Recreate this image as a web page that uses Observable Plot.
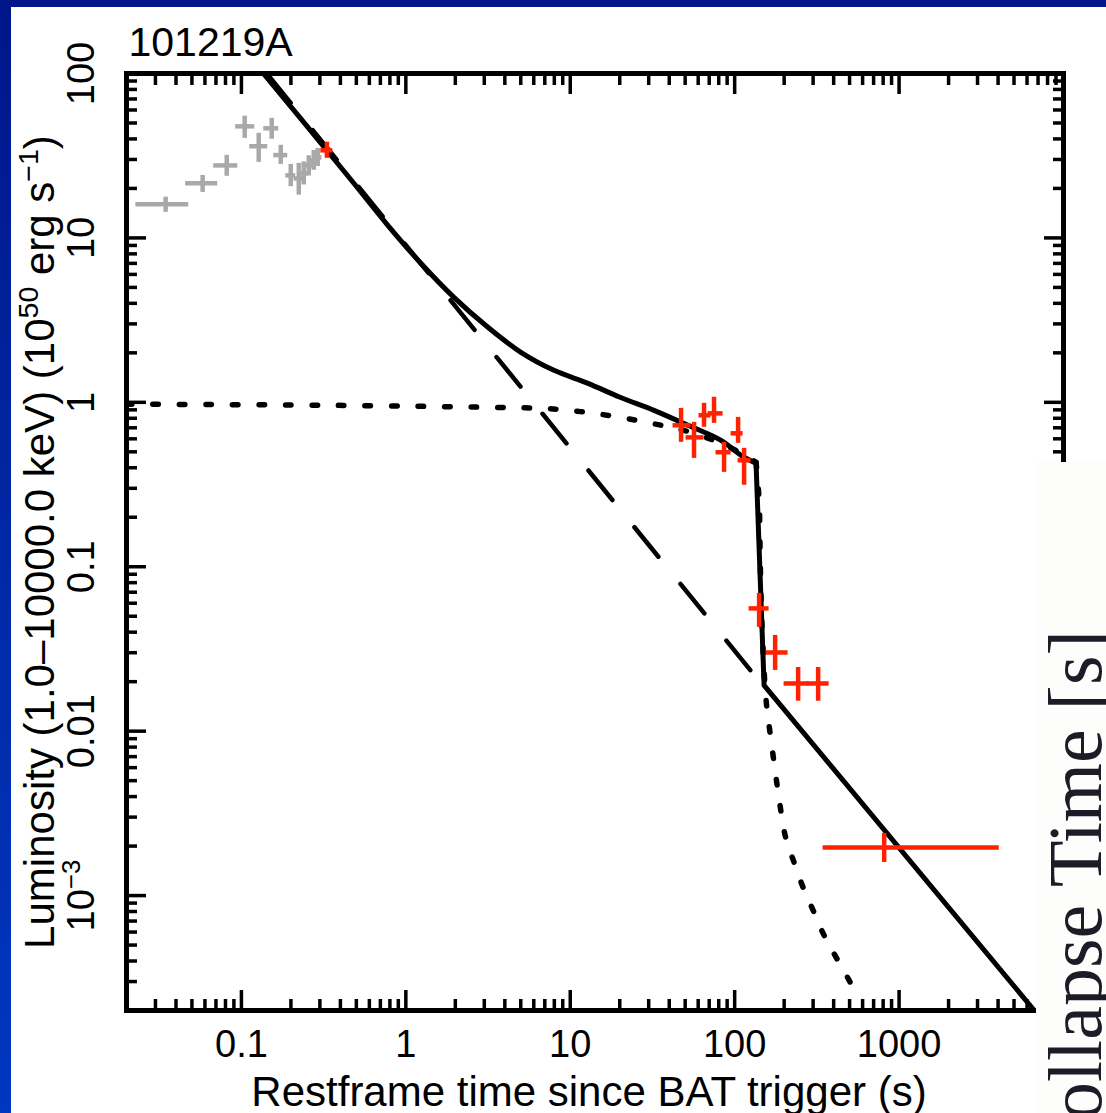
<!DOCTYPE html>
<html>
<head>
<meta charset="utf-8">
<script src="https://cdn.jsdelivr.net/npm/d3@7"></script>
<script src="https://cdn.jsdelivr.net/npm/@observablehq/plot@0.6"></script>
<style>
  html, body { margin: 0; padding: 0; }
  body {
    width: 1106px; height: 1113px; overflow: hidden; position: relative;
    background: linear-gradient(to bottom, #00168a 0%, #002aa8 55%, #0037c0 100%);
    font-family: "Liberation Sans", Arial, sans-serif;
  }
  #panel { position: absolute; left: 11px; top: 7px; width: 1095px; height: 1106px; background: #fff; }
  #chart { position: absolute; left: 11px; top: 7px; }
  #overlay {
    position: absolute; left: 1036px; top: 462px; width: 70px; height: 651px;
    background: #fdfdfc; overflow: hidden;
  }
  #overlay-text {
    position: absolute; left: 1px; top: 658px;
    transform-origin: 0 0; transform: rotate(-90deg);
    font-family: "Liberation Serif", "Times New Roman", serif; font-size: 76px;
    line-height: 1; white-space: nowrap; color: #1c1c28;
  }
</style>
</head>
<body>
<div id="panel"></div>
<div id="chart"></div>
<div id="overlay"><div id="overlay-text">ollapse Time [s]</div></div>
<script>
// ---------------- data ----------------
const burstName = "101219A";
const xTitle = "Restframe time since BAT trigger (s)";
const yTitle = "Luminosity (1.0–10000.0 keV) (10⁵⁰ erg s⁻¹)";

const xDomain = [0.02, 10000];
const yDomain = [2e-4, 100];

const xLabelTicks = [0.1, 1, 10, 100, 1000];
const xLabelText  = ["0.1", "1", "10", "100", "1000"];
const yLabelTicks = [0.001, 0.01, 0.1, 1, 10, 100];
const yLabelText  = ["10⁻³", "0.01", "0.1", "1", "10", "100"];
const xMajorTicks = [0.1, 1, 10, 100, 1000, 10000];
const yMajorTicks = [0.001, 0.01, 0.1, 1, 10, 100];
const xDecades = [0.01, 0.1, 1, 10, 100, 1000];
const yDecades = [0.0001, 0.001, 0.01, 0.1, 1, 10];
const minorMultipliers = [2, 3, 4, 5, 6, 7, 8, 9];

// gray (early BAT) points with error bars
const grayT   = [0.0346, 0.0581, 0.0814, 0.1047, 0.1274, 0.1529, 0.1734, 0.1995, 0.2233, 0.2394, 0.2568, 0.2754, 0.2913];
const grayTlo = [0.0228, 0.0458, 0.0678, 0.0923, 0.1123, 0.1367, 0.1572, 0.186, 0.209, 0.225, 0.241, 0.259, 0.274];
const grayThi = [0.0478, 0.0717, 0.095, 0.1205, 0.1445, 0.1687, 0.1913, 0.214, 0.238, 0.255, 0.273, 0.293, 0.309];
const grayL   = [16.0, 21.5, 27.6, 47.7, 36.1, 46.4, 31.9, 24.0, 23.0, 24.7, 27.6, 29.6, 30.9];
const grayLlo = [14.3, 18.9, 23.7, 40.3, 28.8, 39.8, 28.0, 20.5, 18.2, 21.0, 23.8, 25.8, 27.2];
const grayLhi = [17.7, 24.0, 31.8, 55.0, 43.3, 53.4, 36.6, 28.0, 28.4, 29.0, 31.6, 34.0, 35.0];

// red points with error bars
const redT   = [0.331, 47.2, 56.6, 65.1, 74.9, 86.2, 104.9, 114.1, 140.8, 176.2, 243.2, 321.9, 811.7];
const redTlo = [0.304, 42.2, 50.6, 60.7, 68.9, 77.0, 95.1, 104.9, 122.4, 155.3, 199.8, 275.8, 345.1];
const redThi = [0.36, 54.3, 65.1, 71.8, 85.0, 95.1, 112.5, 125.9, 162, 211.4, 283.7, 375.5, 4068];
const redL   = [34.1, 0.725, 0.612, 0.834, 0.857, 0.497, 0.648, 0.444, 0.0558, 0.0301, 0.0195, 0.0195, 0.00196];
const redLlo = [30.5, 0.571, 0.456, 0.705, 0.745, 0.375, 0.563, 0.313, 0.0428, 0.0234, 0.0152, 0.0152, 0.00159];
const redLhi = [38.2, 0.919, 0.756, 0.986, 1.073, 0.571, 0.810, 0.525, 0.0689, 0.0382, 0.0244, 0.0244, 0.00239];

// model curves (smooth part, then the sharp collapse part)
const solidSmoothT = [0.136, 0.331, 0.4826, 0.777, 1.234, 1.96, 3.156, 5.01, 7.96, 12.82, 20.1, 32.3, 52.0, 82.6, 109.4, 134.9];
const solidSmoothL = [100, 34.1, 21.5, 11.93, 7.01, 4.35, 2.86, 2.014, 1.565, 1.305, 1.073, 0.894, 0.725, 0.587, 0.476, 0.4256];
const solidDropT = [134.9, 151, 6643];
const solidDropL = [0.4256, 0.019, 0.0002];
const dashedT = [0.1426, 144.8];
const dashedL = [100, 0.0195];
const dottedT = [0.02, 0.3646, 3.38, 6.82, 9.82, 13.9, 20.1, 28.9, 41.0, 56.6, 82.6, 109.4, 134.9, 140.8, 142.8, 144.8, 148.9, 155.3, 166.5, 191.6, 205.5, 229.9, 260.8, 300.1, 345.1, 414.2, 496.9, 525.6];
const dottedL = [0.975, 0.959, 0.932, 0.919, 0.894, 0.857, 0.811, 0.756, 0.705, 0.648, 0.563, 0.490, 0.432, 0.2534, 0.1206, 0.0625, 0.031, 0.0154, 0.00879, 0.00321, 0.0022, 0.00159, 0.00112, 0.000813, 0.000589, 0.000421, 0.000305, 0.000273];

// ---------------- build tables ----------------
const pts = (T, Tlo, Thi, L, Llo, Lhi) => T.map((t, i) => ({t, tlo: Tlo[i], thi: Thi[i], L: L[i], Llo: Llo[i], Lhi: Lhi[i]}));
const curve = (T, L) => T.map((t, i) => ({t, L: L[i]}));
const grayPts = pts(grayT, grayTlo, grayThi, grayL, grayLlo, grayLhi);
const redPts = pts(redT, redTlo, redThi, redL, redLlo, redLhi);
const inDom = (v, d) => v >= d[0] * 0.999 && v <= d[1] * 1.001;
const xMinor = xDecades.flatMap(d => minorMultipliers.map(m => d * m)).filter(v => inDom(v, xDomain));
const yMinor = yDecades.flatMap(d => minorMultipliers.map(m => d * m)).filter(v => inDom(v, yDomain));
const xLabelMap = new Map(xLabelTicks.map((v, i) => [v, xLabelText[i]]));
const yLabelMap = new Map(yLabelTicks.map((v, i) => [v, yLabelText[i]]));

const RED = "#ff2200", GRAY = "#a9a9a9";
const tickW = 3.5, majorLen = -20, minorLen = -11;

const tickAxes = [];
for (const anchor of ["bottom", "top"]) {
  tickAxes.push(Plot.axisX({anchor, ticks: xMajorTicks, tickSize: majorLen, strokeWidth: tickW, fill: "none", label: null}));
  tickAxes.push(Plot.axisX({anchor, ticks: xMinor, tickSize: minorLen, strokeWidth: tickW, fill: "none", label: null}));
}
for (const anchor of ["left", "right"]) {
  tickAxes.push(Plot.axisY({anchor, ticks: yMajorTicks, tickSize: majorLen, strokeWidth: tickW, fill: "none", label: null}));
  tickAxes.push(Plot.axisY({anchor, ticks: yMinor, tickSize: minorLen, strokeWidth: tickW, fill: "none", label: null}));
}

const chart = Plot.plot({
  width: 1095, height: 1106,
  marginLeft: 115, marginRight: 43, marginTop: 66, marginBottom: 103,
  x: {type: "log", domain: xDomain, label: null},
  y: {type: "log", domain: yDomain, label: null},
  style: {fontFamily: "'Liberation Sans', Arial, sans-serif", background: "transparent", color: "#000", overflow: "visible"},
  marks: [
    Plot.line(curve(dottedT.slice(0, 13), dottedL.slice(0, 13)), {x: "t", y: "L", stroke: "#000", strokeWidth: 5.5, strokeDasharray: "5.5,21", curve: "catmull-rom", clip: true}),
    Plot.line(curve(dottedT.slice(12), dottedL.slice(12)), {x: "t", y: "L", stroke: "#000", strokeWidth: 5.5, strokeDasharray: "5.5,21", curve: "catmull-rom", clip: true}),
    Plot.line(curve(dashedT, dashedL), {x: "t", y: "L", stroke: "#000", strokeWidth: 4.5, strokeDasharray: "38,35", clip: true}),
    Plot.line(curve(solidSmoothT, solidSmoothL), {x: "t", y: "L", stroke: "#000", strokeWidth: 5, curve: "catmull-rom", clip: true}),
    Plot.line(curve(solidDropT, solidDropL), {x: "t", y: "L", stroke: "#000", strokeWidth: 5, clip: true}),
    Plot.ruleY(grayPts, {y: "L", x1: "tlo", x2: "thi", stroke: GRAY, strokeWidth: 4.5}),
    Plot.ruleX(grayPts, {x: "t", y1: "Llo", y2: "Lhi", stroke: GRAY, strokeWidth: 4.5}),
    Plot.ruleY(redPts, {y: "L", x1: "tlo", x2: "thi", stroke: RED, strokeWidth: 4.5}),
    Plot.ruleX(redPts, {x: "t", y1: "Llo", y2: "Lhi", stroke: RED, strokeWidth: 4.5}),
    Plot.frame({stroke: "#000", strokeWidth: 5}),
    ...tickAxes,
    Plot.axisX({anchor: "bottom", ticks: xLabelTicks, tickFormat: d => xLabelMap.get(d), tickSize: 0, tickPadding: 20, fontSize: 38, label: null}),
    Plot.axisY({anchor: "left", ticks: yLabelTicks, tickFormat: d => yLabelMap.get(d), tickSize: 0, tickPadding: 33, tickRotate: -90, fontSize: 38, label: null}),
    Plot.text([burstName], {text: d => d, frameAnchor: "top-left", textAnchor: "start", lineAnchor: "middle", dx: 2, dy: -31, fontSize: 41}),
    Plot.text([xTitle], {text: d => d, frameAnchor: "bottom", textAnchor: "middle", lineAnchor: "middle", dx: -6, dy: 82, fontSize: 42}),
    Plot.text([yTitle], {text: d => d, frameAnchor: "left", textAnchor: "middle", lineAnchor: "middle", rotate: -90, dx: -86, dy: 0, fontSize: 42})
  ]
});

// render Unicode superscript runs as real superscript tspans
const supMap = {"⁰":"0","¹":"1","²":"2","³":"3","⁴":"4","⁵":"5","⁶":"6","⁷":"7","⁸":"8","⁹":"9","⁻":"−"};
d3.select(chart).selectAll("text").each(function () {
  const s = this.textContent;
  if (!s || !/[⁰¹²³⁴⁵⁶⁷⁸⁹⁻]/.test(s)) return;
  if (this.querySelector("tspan")) return;
  const runs = [];
  for (const ch of s) {
    const sup = ch in supMap;
    const last = runs[runs.length - 1];
    if (last && last.sup === sup) last.text += sup ? supMap[ch] : ch;
    else runs.push({sup, text: sup ? supMap[ch] : ch});
  }
  const el = d3.select(this);
  el.text(null);
  for (const r of runs) {
    const t = el.append("tspan").text(r.text);
    if (r.sup) t.attr("baseline-shift", "super").attr("font-size", "68%");
  }
});
document.getElementById("chart").appendChild(chart);
</script>
</body>
</html>
